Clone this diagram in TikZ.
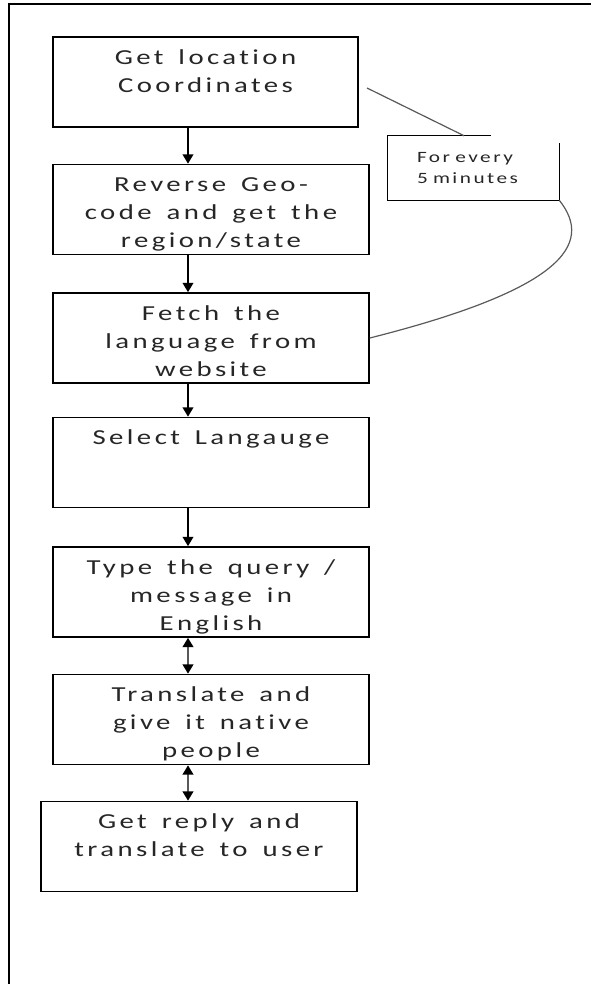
\documentclass[tikz,border=0pt]{standalone}
\usepackage{fontspec}
\setmainfont{Carlito}[FakeStretch=1.35,LetterSpace=16,WordSpace=1.5,Ligatures=CommonOff]
\usetikzlibrary{arrows.meta,calc}
\newcommand{\boxtxt}[2]{\parbox[c][67.5pt][t]{#1}{\centering\vspace*{9.5pt}#2}}
\begin{document}
\begin{tikzpicture}[x=0.75pt,y=-0.75pt]
				\tikzstyle{every node}+=[inner sep=0pt]
				\tikzstyle{stepbox}=[draw, line width=1.2pt, text=black!85, font=\fontsize{16pt}{21pt}\selectfont]
				\tikzstyle{notebox}=[text=black!85, font=\fontsize{11.8pt}{15.75pt}\selectfont, align=left, text width=84.75pt, inner xsep=21.75pt, minimum height=48pt]
				\tikzstyle{flow}=[line width=1.2pt, -{Triangle[width=8pt,length=7pt]}]
				\tikzstyle{both}=[draw=gray!70!black, line width=1.4pt, {Triangle[width=8pt,length=7pt,color=black]}-{Triangle[width=8pt,length=7pt,color=black]}]
				\tikzstyle{thin}=[draw=gray!70!black, line width=0.9pt]
				\useasboundingbox (0,0) rectangle (591,984);
				\draw [line width=1.5pt] (9,984) -- (9,4) -- (591,4);
				\node [stepbox] (loc) at (205.5,82) {\boxtxt{228.75pt}{Get location\\Coordinates}};
				\node [stepbox] (geo) at (211,209.5) {\boxtxt{237pt}{Reverse Geo-\\code and get the\\region/state}};
				\node [stepbox] (fetch) at (211,338) {\boxtxt{237pt}{Fetch the\\language from\\website}};
				\node [stepbox] (select) at (211,462.5) {\boxtxt{237pt}{Select Langauge}};
				\node [stepbox] (query) at (211,592) {\boxtxt{237pt}{Type the query /\\message in\\English}};
				\node [stepbox] (translate) at (211,719.5) {\boxtxt{237pt}{Translate and\\give it native\\people}};
				\node [stepbox] (reply) at (199,846.5) {\boxtxt{237pt}{Get reply and\\translate to user}};
				\node [notebox] (every) at (473.5,168) {For every\\5 minutes};
				\draw [line width=1.1pt] ($(every.north west)+(103,0)$) -- (every.north west) -- (every.south west) -- (every.south east) -- ($(every.north east)+(0,7)$);
				\coordinate (ax) at (188,0);
				\coordinate (tail) at (367,88);
				\draw [flow] (loc.south -| ax) -- (geo.north -| ax);
				\draw [flow] (geo.south -| ax) -- (fetch.north -| ax);
				\draw [flow] (fetch.south -| ax) -- (select.north -| ax);
				\draw [flow] (select.south -| ax) -- (query.north -| ax);
				\draw [both] (query.south -| ax) -- (translate.north -| ax);
				\draw [both] (translate.south -| ax) -- (reply.north -| ax);
				\draw [thin] (tail) -- ($(every.north)+(-9.5,0)$);
				\draw [thin] (every.south east) .. controls (595,245) and (560,290) .. (fetch.east);
\end{tikzpicture}
\end{document}
